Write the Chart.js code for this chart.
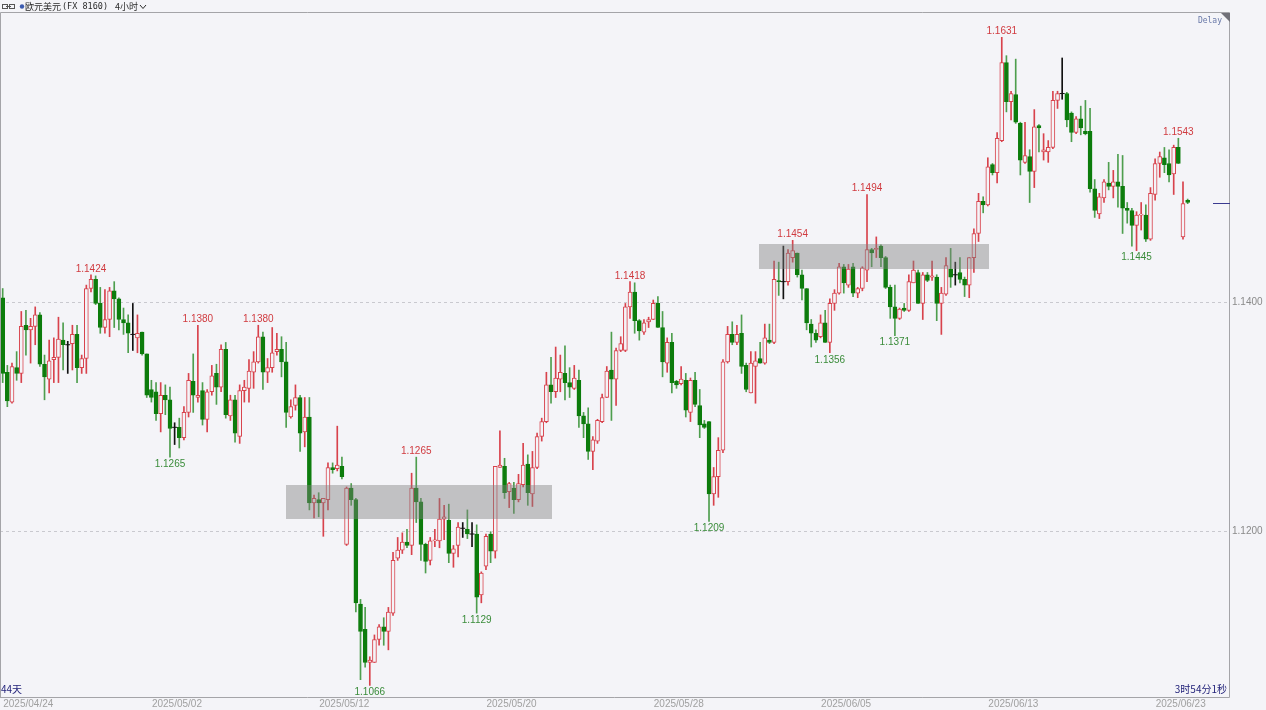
<!DOCTYPE html>
<html>
<head>
<meta charset="utf-8">
<script src="https://cdn.jsdelivr.net/npm/chart.js@4.4.1/dist/chart.umd.min.js"></script>
<style>
  html, body { margin: 0; padding: 0; background: #f4f4f8; }
  #wrap { position: relative; width: 1266px; height: 710px; overflow: hidden; }
  canvas { display: block; }
</style>
</head>
<body>
<div id="wrap"><canvas id="kline" width="1266" height="710"></canvas></div>
<script>
// EUR/USD, 4-hour candles
const opens = [
1.1404,1.1339,1.1313,1.1343,1.1338,1.1380,1.1376,1.1379,1.1389,1.1346,
1.1333,1.1350,1.1352,1.1367,1.1363,1.1364,1.1372,1.1343,1.1351,1.1412,
1.1420,1.1399,1.1378,1.1385,1.1410,1.1403,1.1385,1.1382,1.1372,1.1369,
1.1374,1.1355,1.1324,1.1322,1.1303,1.1319,1.1315,1.1291,1.1291,1.1282,
1.1304,1.1331,1.1317,1.1323,1.1298,1.1322,1.1338,1.1326,1.1359,1.1301,
1.1315,1.1283,1.1323,1.1325,1.1339,1.1348,1.1370,1.1339,1.1343,1.1357,
1.1359,1.1348,1.1300,1.1310,1.1317,1.1287,1.1300,1.1225,1.1228,1.1225,
1.1228,1.1256,1.1255,1.1257,1.1189,1.1238,1.1228,1.1137,1.1115,1.1086,
1.1086,1.1106,1.1117,1.1113,1.1129,1.1177,1.1184,1.1191,1.1188,1.1238,
1.1226,1.1189,1.1175,1.1192,1.1192,1.1211,1.1210,1.1181,1.1188,1.1203,
1.1202,1.1198,1.1198,1.1145,1.1170,1.1198,1.1183,1.1256,1.1257,1.1235,
1.1238,1.1228,1.1241,1.1259,1.1233,1.1256,1.1283,1.1296,1.1328,1.1322,
1.1333,1.1338,1.1330,1.1325,1.1332,1.1301,1.1294,1.1270,1.1279,1.1296,
1.1317,1.1341,1.1333,1.1358,1.1358,1.1396,1.1409,1.1384,1.1374,1.1383,
1.1385,1.1399,1.1378,1.1347,1.1365,1.1331,1.1329,1.1332,1.1304,1.1332,
1.1310,1.1294,1.1296,1.1233,1.1248,1.1271,1.1348,1.1372,1.1365,1.1373,
1.1345,1.1321,1.1344,1.1351,1.1347,1.1367,1.1365,1.1419,1.1418,1.1418,
1.1439,1.1443,1.1424,1.1412,1.1381,1.1373,1.1370,1.1382,1.1365,1.1399,
1.1408,1.1431,1.1415,1.1431,1.1408,1.1412,1.1428,1.1446,1.1446,1.1449,
1.1439,1.1413,1.1396,1.1386,1.1395,1.1393,1.1417,1.1426,1.1399,1.1424,
1.1422,1.1422,1.1399,1.1407,1.1429,1.1424,1.1426,1.1420,1.1415,1.1439,
1.1460,1.1488,1.1485,1.1520,1.1513,1.1541,1.1609,1.1575,1.1581,1.1556,
1.1522,1.1527,1.1514,1.1554,1.1531,1.1531,1.1535,1.1576,1.1582,1.1582,
1.1565,1.1548,1.1560,1.1549,1.1549,1.1499,1.1477,1.1491,1.1504,1.1501,
1.1505,1.1501,1.1482,1.1480,1.1467,1.1476,1.1476,1.1455,1.1494,1.1521,
1.1526,1.1521,1.1512,1.1535,1.1457,1.1489
];
const highs = [
1.1412,1.1345,1.1347,1.1357,1.1392,1.1393,1.1386,1.1396,1.1391,1.1354,
1.1367,1.1369,1.1387,1.1382,1.1366,1.1380,1.1380,1.1354,1.1415,1.1424,
1.1423,1.1413,1.1411,1.1413,1.1418,1.1404,1.1395,1.1389,1.1399,1.1389,
1.1374,1.1355,1.1332,1.1330,1.1330,1.1328,1.1326,1.1295,1.1299,1.1309,
1.1338,1.1355,1.1380,1.1330,1.1324,1.1345,1.1346,1.1363,1.1365,1.1319,
1.1319,1.1328,1.1332,1.1350,1.1357,1.1380,1.1374,1.1351,1.1378,1.1373,
1.1370,1.1365,1.1315,1.1328,1.1319,1.1317,1.1317,1.1232,1.1234,1.1229,
1.1260,1.1260,1.1292,1.1265,1.1239,1.1242,1.1229,1.1141,1.1134,1.1091,
1.1110,1.1119,1.1125,1.1134,1.1182,1.1195,1.1199,1.1202,1.1251,1.1265,
1.1229,1.1190,1.1195,1.1202,1.1229,1.1223,1.1224,1.1188,1.1208,1.1208,
1.1219,1.1208,1.1206,1.1165,1.1198,1.1200,1.1257,1.1288,1.1264,1.1243,
1.1243,1.1250,1.1277,1.1267,1.1270,1.1286,1.1299,1.1339,1.1352,1.1361,
1.1354,1.1362,1.1343,1.1345,1.1341,1.1304,1.1308,1.1283,1.1298,1.1320,
1.1344,1.1374,1.1360,1.1370,1.1399,1.1418,1.1417,1.1385,1.1385,1.1387,
1.1402,1.1405,1.1392,1.1369,1.1373,1.1332,1.1344,1.1338,1.1334,1.1339,
1.1324,1.1297,1.1296,1.1256,1.1282,1.1350,1.1379,1.1383,1.1380,1.1389,
1.1347,1.1357,1.1357,1.1365,1.1381,1.1381,1.1436,1.1435,1.1449,1.1446,
1.1454,1.1443,1.1428,1.1412,1.1385,1.1376,1.1389,1.1393,1.1403,1.1411,
1.1434,1.1433,1.1433,1.1434,1.1413,1.1431,1.1494,1.1447,1.1457,1.1450,
1.1440,1.1415,1.1415,1.1395,1.1399,1.1424,1.1436,1.1428,1.1426,1.1426,
1.1436,1.1424,1.1413,1.1439,1.1447,1.1435,1.1439,1.1422,1.1439,1.1464,
1.1495,1.1492,1.1526,1.1521,1.1548,1.1631,1.1615,1.1584,1.1612,1.1557,
1.1557,1.1533,1.1568,1.1555,1.1547,1.1541,1.1584,1.1584,1.1613,1.1583,
1.1566,1.1562,1.1571,1.1576,1.1569,1.1507,1.1495,1.1507,1.1522,1.1515,
1.1529,1.1528,1.1487,1.1482,1.1479,1.1487,1.1485,1.1500,1.1525,1.1531,
1.1535,1.1533,1.1537,1.1543,1.1505,1.1490
];
const lows = [
1.1330,1.1309,1.1312,1.1332,1.1330,1.1354,1.1347,1.1363,1.1344,1.1315,
1.1321,1.1330,1.1330,1.1341,1.1338,1.1341,1.1330,1.1338,1.1338,1.1409,
1.1398,1.1373,1.1373,1.1370,1.1378,1.1376,1.1372,1.1356,1.1358,1.1356,
1.1354,1.1317,1.1313,1.1297,1.1287,1.1302,1.1265,1.1276,1.1273,1.1280,
1.1300,1.1304,1.1313,1.1293,1.1287,1.1319,1.1311,1.1322,1.1299,1.1297,
1.1278,1.1277,1.1313,1.1313,1.1325,1.1347,1.1324,1.1330,1.1339,1.1354,
1.1335,1.1291,1.1299,1.1306,1.1270,1.1274,1.1219,1.1212,1.1213,1.1196,
1.1219,1.1251,1.1253,1.1246,1.1188,1.1223,1.1130,1.1071,1.1082,1.1066,
1.1086,1.1101,1.1101,1.1097,1.1127,1.1175,1.1181,1.1186,1.1180,1.1208,
1.1175,1.1164,1.1171,1.1187,1.1186,1.1193,1.1173,1.1169,1.1178,1.1195,
1.1194,1.1187,1.1129,1.1138,1.1167,1.1173,1.1177,1.1256,1.1229,1.1221,
1.1216,1.1226,1.1239,1.1223,1.1222,1.1255,1.1279,1.1295,1.1312,1.1317,
1.1322,1.1315,1.1317,1.1324,1.1291,1.1282,1.1263,1.1254,1.1277,1.1295,
1.1317,1.1297,1.1310,1.1357,1.1357,1.1386,1.1373,1.1367,1.1372,1.1378,
1.1385,1.1378,1.1335,1.1339,1.1321,1.1325,1.1328,1.1300,1.1296,1.1309,
1.1282,1.1290,1.1209,1.1223,1.1230,1.1269,1.1347,1.1363,1.1363,1.1338,
1.1322,1.1321,1.1312,1.1347,1.1346,1.1364,1.1364,1.1406,1.1403,1.1415,
1.1435,1.1422,1.1402,1.1376,1.1361,1.1365,1.1369,1.1365,1.1356,1.1393,
1.1407,1.1408,1.1413,1.1405,1.1404,1.1410,1.1418,1.1431,1.1439,1.1431,
1.1412,1.1386,1.1371,1.1385,1.1392,1.1392,1.1417,1.1399,1.1385,1.1418,
1.1419,1.1384,1.1372,1.1406,1.1413,1.1415,1.1417,1.1405,1.1404,1.1426,
1.1453,1.1478,1.1484,1.1511,1.1504,1.1540,1.1566,1.1559,1.1556,1.1511,
1.1521,1.1487,1.1500,1.1531,1.1524,1.1522,1.1534,1.1569,1.1577,1.1553,
1.1540,1.1547,1.1546,1.1546,1.1496,1.1474,1.1473,1.1487,1.1498,1.1491,
1.1483,1.1460,1.1469,1.1449,1.1445,1.1463,1.1453,1.1454,1.1489,1.1509,
1.1513,1.1505,1.1494,1.1521,1.1455,1.1486
];
const closes = [
1.1338,1.1314,1.1344,1.1338,1.1379,1.1376,1.1379,1.1389,1.1346,1.1335,
1.1349,1.1352,1.1368,1.1363,1.1363,1.1372,1.1343,1.1351,1.1412,1.1420,
1.1399,1.1378,1.1385,1.1410,1.1403,1.1385,1.1382,1.1373,1.1372,1.1373,
1.1355,1.1319,1.1317,1.1303,1.1319,1.1315,1.1290,1.1291,1.1282,1.1304,
1.1332,1.1319,1.1319,1.1298,1.1322,1.1336,1.1326,1.1359,1.1302,1.1315,
1.1286,1.1323,1.1326,1.1340,1.1348,1.1370,1.1339,1.1343,1.1356,1.1359,
1.1348,1.1304,1.1309,1.1317,1.1286,1.1300,1.1225,1.1229,1.1225,1.1229,
1.1256,1.1254,1.1258,1.1248,1.1238,1.1228,1.1138,1.1113,1.1086,1.1088,
1.1106,1.1117,1.1113,1.1130,1.1175,1.1184,1.1191,1.1188,1.1238,1.1226,
1.1189,1.1174,1.1192,1.1193,1.1211,1.1213,1.1181,1.1185,1.1204,1.1203,
1.1198,1.1198,1.1143,1.1164,1.1196,1.1183,1.1257,1.1258,1.1234,1.1242,
1.1228,1.1242,1.1258,1.1234,1.1256,1.1283,1.1296,1.1328,1.1322,1.1334,
1.1339,1.1330,1.1326,1.1334,1.1301,1.1294,1.1270,1.1280,1.1297,1.1317,
1.1340,1.1333,1.1358,1.1364,1.1396,1.1409,1.1384,1.1375,1.1382,1.1385,
1.1399,1.1378,1.1348,1.1365,1.1330,1.1328,1.1333,1.1306,1.1332,1.1311,
1.1293,1.1291,1.1233,1.1248,1.1271,1.1348,1.1372,1.1365,1.1372,1.1344,
1.1324,1.1347,1.1349,1.1347,1.1369,1.1365,1.1420,1.1418,1.1418,1.1443,
1.1445,1.1424,1.1412,1.1382,1.1373,1.1367,1.1382,1.1365,1.1399,1.1408,
1.1431,1.1417,1.1429,1.1408,1.1412,1.1430,1.1446,1.1443,1.1447,1.1439,
1.1413,1.1396,1.1386,1.1394,1.1393,1.1418,1.1428,1.1399,1.1424,1.1419,
1.1423,1.1399,1.1408,1.1432,1.1422,1.1424,1.1420,1.1415,1.1439,1.1460,
1.1488,1.1485,1.1518,1.1513,1.1543,1.1609,1.1575,1.1582,1.1557,1.1524,
1.1528,1.1514,1.1553,1.1552,1.1533,1.1535,1.1576,1.1582,1.1582,1.1559,
1.1548,1.1560,1.1552,1.1547,1.1499,1.1480,1.1492,1.1505,1.1501,1.1505,
1.1501,1.1482,1.1480,1.1467,1.1476,1.1477,1.1455,1.1495,1.1521,1.1527,
1.1520,1.1511,1.1535,1.1521,1.1486,1.1487
];

// date labels on the time axis and the candle each day starts at
const dayLabels = ['2025/04/24','2025/05/02','2025/05/12','2025/05/20','2025/05/28','2025/06/05','2025/06/13','2025/06/23'];
const dayStart  = [6, 38, 74, 110, 146, 182, 218, 254];

// price ticks on the right axis
const priceTicks = [1.12, 1.14];

// swing highs / lows that carry a value label
const peakIdx   = [19, 42, 55, 89, 135, 170, 186, 215, 253];
const troughIdx = [36, 79, 102, 152, 178, 192, 244];

// consolidation zones (candle index range, price range)
const zoneFrom = [60.95, 162.7];
const zoneTo   = [118.2, 212.2];
const zoneLow  = [1.1211, 1.1429];
const zoneHigh = [1.1241, 1.1451];

const BG = '#f4f4f8';
const UP = '#d8424c';
const DOWN = '#0c7c0c';
const DOWN_WICK = '#4e9e4e';
const FLAT = '#111111';

const N = opens.length;
const idx = opens.map((_, i) => i);
const dir = i => (closes[i] > opens[i] ? 1 : closes[i] < opens[i] ? -1 : 0);

const wickData = idx.map(i => ({ x: i, y: [lows[i], highs[i]] }));
const bodyData = idx.filter(i => dir(i) !== 0)
  .map(i => ({ x: i, y: [Math.min(opens[i], closes[i]), Math.max(opens[i], closes[i])] }));
const dojiData = idx.filter(i => dir(i) === 0).map(i => ({ x: i, y: opens[i] }));

const wickColor = c => { const d = dir(c.raw.x); return d > 0 ? UP : d < 0 ? DOWN_WICK : FLAT; };
const bodyFill  = c => (dir(c.raw.x) > 0 ? BG : DOWN);
const bodyLine  = c => (dir(c.raw.x) > 0 ? UP : DOWN);

const FONT = '"Liberation Sans", Arial, sans-serif';

const backdrop = {
  id: 'backdrop',
  beforeDraw(chart) {
    const { ctx, width, height } = chart;
    ctx.save();
    ctx.fillStyle = BG;
    ctx.fillRect(0, 0, width, height);
    ctx.restore();
  }
};

const zones = {
  id: 'zones',
  afterDatasetsDraw(chart) {
    const { ctx, scales: { x, y } } = chart;
    ctx.save();
    ctx.fillStyle = 'rgba(128,128,128,0.44)';
    for (let k = 0; k < zoneFrom.length; k++) {
      const x0 = Math.round(x.getPixelForValue(zoneFrom[k]));
      const x1 = Math.round(x.getPixelForValue(zoneTo[k]));
      const y0 = Math.round(y.getPixelForValue(zoneHigh[k]));
      const y1 = Math.round(y.getPixelForValue(zoneLow[k]));
      ctx.fillRect(x0, y0, x1 - x0, y1 - y0);
    }
    ctx.restore();
  }
};

const swingLabels = {
  id: 'swingLabels',
  afterDatasetsDraw(chart) {
    const { ctx, scales: { x, y } } = chart;
    ctx.save();
    ctx.font = '10px ' + FONT;
    ctx.textAlign = 'center';
    ctx.textBaseline = 'alphabetic';
    ctx.fillStyle = '#d03a3f';
    peakIdx.forEach(i => {
      ctx.fillText(highs[i].toFixed(4), x.getPixelForValue(i), y.getPixelForValue(highs[i]) - 3);
    });
    ctx.fillStyle = '#3a8c3a';
    ctx.textBaseline = 'top';
    troughIdx.forEach(i => {
      ctx.fillText(lows[i].toFixed(4), x.getPixelForValue(i), y.getPixelForValue(lows[i]) + 2);
    });
    ctx.restore();
  }
};

const frame = {
  id: 'frame',
  afterDraw(chart) {
    const { ctx, chartArea: a, scales: { y } } = chart;
    ctx.save();
    // plot frame and axes
    ctx.strokeStyle = '#a4a4a8';
    ctx.lineWidth = 1;
    ctx.beginPath();
    ctx.moveTo(0.5, a.top - 0.5); ctx.lineTo(a.right + 0.5, a.top - 0.5);
    ctx.moveTo(a.right + 0.5, a.top - 0.5); ctx.lineTo(a.right + 0.5, a.bottom + 0.5);
    ctx.moveTo(0, a.bottom + 0.5); ctx.lineTo(a.right + 0.5, a.bottom + 0.5);
    ctx.moveTo(0.5, a.top - 0.5); ctx.lineTo(0.5, a.bottom + 0.5);
    ctx.stroke();

    // corner marker
    ctx.fillStyle = '#707078';
    ctx.beginPath();
    ctx.moveTo(a.right - 8, a.top); ctx.lineTo(a.right + 1, a.top); ctx.lineTo(a.right + 1, a.top + 9);
    ctx.closePath(); ctx.fill();

    // last price marker
    const py = Math.round(y.getPixelForValue(closes[N - 1])) + 0.5;
    ctx.strokeStyle = '#3a3a90';
    ctx.beginPath(); ctx.moveTo(a.right - 16, py); ctx.lineTo(a.right + 1, py); ctx.stroke();

    // header
    ctx.strokeStyle = '#555';
    ctx.lineWidth = 1;
    ctx.strokeRect(2.5, 4.5, 5, 4);
    ctx.strokeRect(9.5, 4.5, 5, 4);
    ctx.beginPath(); ctx.moveTo(6, 6.5); ctx.lineTo(11, 6.5); ctx.stroke();
    ctx.fillStyle = '#3b5bb0';
    ctx.beginPath(); ctx.arc(22, 6.5, 2.2, 0, Math.PI * 2); ctx.fill();
    ctx.fillStyle = '#2a2a2a';
    ctx.textBaseline = 'middle';
    ctx.textAlign = 'left';
    ctx.font = '9px "Noto Sans CJK SC", sans-serif';
    ctx.fillText('欧元美元', 25, 7);
    ctx.font = '8.5px "DejaVu Sans Mono", monospace';
    ctx.fillText('(FX 8160)', 62, 7);
    ctx.font = '9px "Noto Sans CJK SC", sans-serif';
    ctx.fillText('4小时', 115, 7);
    ctx.strokeStyle = '#2a2a2a';
    ctx.beginPath(); ctx.moveTo(140, 5); ctx.lineTo(143, 8.5); ctx.lineTo(146, 5); ctx.stroke();

    // delay flag
    ctx.fillStyle = '#6878a8';
    ctx.font = '8px "DejaVu Sans Mono", monospace';
    ctx.textAlign = 'right';
    ctx.fillText('Delay', a.right - 7, a.top + 8);

    // footer texts inside the plot
    ctx.fillStyle = '#23237a';
    ctx.font = '10px "Noto Sans CJK SC", sans-serif';
    ctx.textAlign = 'left';
    ctx.fillText('44天', 1, a.bottom - 8);
    ctx.textAlign = 'right';
    ctx.fillText('3时54分1秒', a.right - 2, a.bottom - 8);
    ctx.restore();
  }
};

new Chart(document.getElementById('kline'), {
  type: 'bar',
  data: {
    datasets: [
      { label: 'wick', data: wickData, grouped: false, order: 3, barThickness: 1,
        backgroundColor: wickColor, borderWidth: 0 },
      { label: 'body', data: bodyData, grouped: false, order: 2, barThickness: 4,
        backgroundColor: bodyFill, borderColor: bodyLine, borderWidth: 1, borderSkipped: false },
      { type: 'scatter', label: 'doji', data: dojiData, order: 1,
        pointStyle: 'line', radius: 2.5, borderColor: FLAT, borderWidth: 1 }
    ]
  },
  options: {
    responsive: false,
    animation: false,
    devicePixelRatio: 1,
    layout: { autoPadding: false, padding: { top: 13, left: 0, right: 0, bottom: 0 } },
    plugins: { legend: { display: false }, tooltip: { enabled: false } },
    scales: {
      x: {
        type: 'linear',
        offset: false,
        min: -0.58,
        max: 263.9,
        grid: { display: false, drawTicks: false, tickLength: 0 },
        border: { display: false },
        afterFit(s) { s.height = 13; s.paddingLeft = 0; s.paddingRight = 0; },
        // each date sits on the boundary before the first candle of its day
        afterBuildTicks(s) { s.ticks = dayStart.map(v => ({ value: v - 0.5 })); },
        ticks: {
          autoSkip: false, maxRotation: 0, padding: 1,
          color: '#a0a0a0', font: { family: FONT, size: 10 },
          callback: (v, i) => dayLabels[i]
        }
      },
      y: {
        position: 'right',
        min: 1.10559,
        max: 1.165221,
        afterFit(s) { s.width = 37; s.paddingTop = 0; s.paddingBottom = 0; },
        afterBuildTicks(s) { s.ticks = priceTicks.map(v => ({ value: v })); },
        grid: { color: '#c9c9cf', drawTicks: false },
        border: { display: false, dash: [3, 3] },
        ticks: {
          padding: 3, color: '#8a8a8a', font: { family: FONT, size: 10 },
          callback: v => v.toFixed(4)
        }
      }
    }
  },
  plugins: [backdrop, zones, swingLabels, frame]
});
</script>
</body>
</html>
